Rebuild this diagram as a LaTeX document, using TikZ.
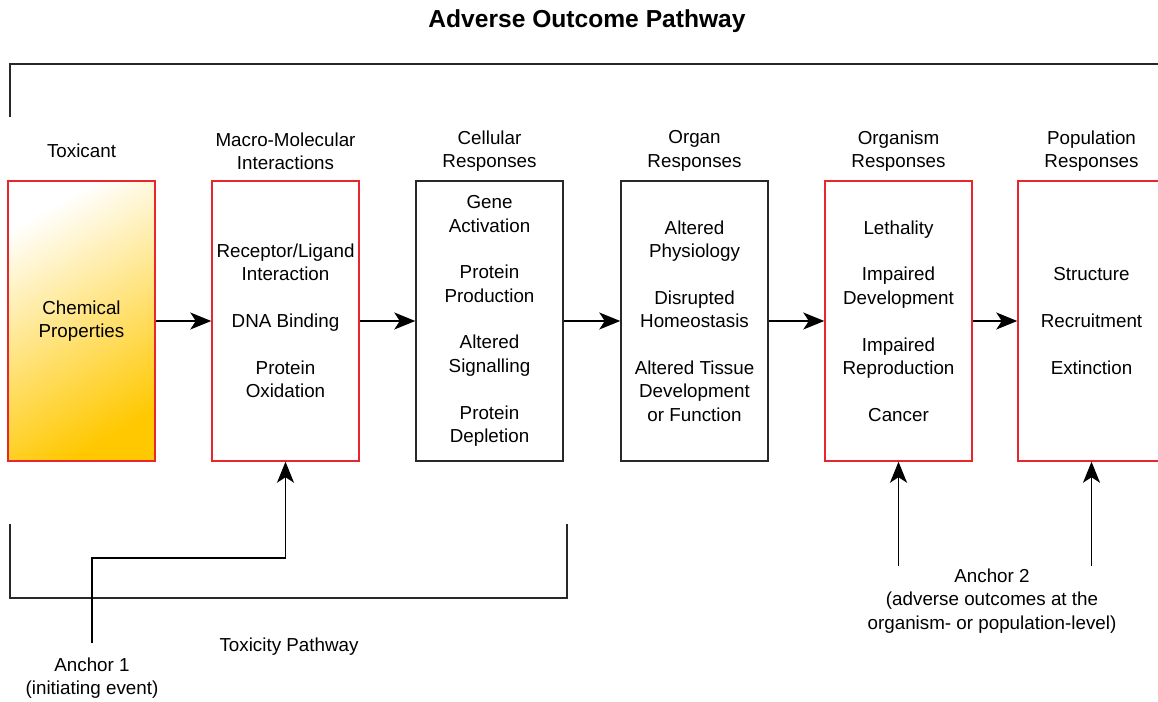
\documentclass[tikz,border=0pt]{standalone}
\usepackage{fontspec}
\setmainfont{Liberation Sans}
\usetikzlibrary{arrows.meta,positioning}
\definecolor{boxred}{RGB}{232,38,44}
\definecolor{gold}{RGB}{255,200,0}
\definecolor{linegray}{RGB}{40,40,40}
\tikzset{
  stagebox/.style={draw=linegray, line width=0.85pt, minimum width=2.94cm, minimum height=5.6cm, align=center, inner sep=0pt},
  redbox/.style={stagebox, draw=boxred},
  head/.style={align=center},
  arr/.style={-{Stealth[length=0.42cm,width=0.34cm,inset=0.11cm]}, line width=0.75pt, draw=black},
  bracket/.style={line width=1.1pt, draw=linegray}
}

\begin{document}
\begin{tikzpicture}[x=0.02cm, y=-0.02cm, font=\fontsize{10.7}{13.3}\selectfont]
  \useasboundingbox (0,0) rectangle (1158,702);

  \node[font=\fontsize{14}{16}\selectfont\bfseries] (title) at (587,21) {Adverse Outcome Pathway};

  % stages
  \node[redbox, top color=white, bottom color=gold, shading angle=30] (tox) at (81.5,321) {Chemical\\Properties};
  \node[redbox] (macro) at (285.5,321) {Receptor/Ligand\\Interaction\\[13.3pt]DNA Binding\\[13.3pt]Protein\\Oxidation};
  \node[stagebox] (cell) at (489.5,321) {Gene\\Activation\\[13.3pt]Protein\\Production\\[13.3pt]Altered\\Signalling\\[13.3pt]Protein\\Depletion};
  \node[stagebox] (organ) at (694.5,321) {Altered\\Physiology\\[13.3pt]Disrupted\\Homeostasis\\[13.3pt]Altered Tissue\\Development\\or Function};
  \node[redbox] (organism) at (898.5,321) {Lethality\\[13.3pt]Impaired\\Development\\[13.3pt]Impaired\\Reproduction\\[13.3pt]Cancer};
  \node[redbox] (pop) at (1091.5,321) {Structure\\[13.3pt]Recruitment\\[13.3pt]Extinction};

  % headings
  \node[head] (toxh) at (81.5,151) {Toxicant};
  \node[head] (macroh) at (285.5,151) {Macro-Molecular\\Interactions};
  \node[head] (cellh) at (489.5,151) {Cellular\\Responses};
  \node[head] (organh) at (694.5,151) {Organ\\Responses};
  \node[head] (organismh) at (898.5,151) {Organism\\Responses};
  \node[head] (poph) at (1091.5,151) {Population\\Responses};

  \draw[arr] (tox) -- (macro);
  \draw[arr] (macro) -- (cell);
  \draw[arr] (cell) -- (organ);
  \draw[arr] (organ) -- (organism);
  \draw[arr] (organism) -- (pop);

  % brackets
  \draw[bracket] (10,117) -- (10,64) -- (1158,64);
  \draw[bracket] (10,524) -- (10,598) -- (567,598) -- (567,524);
  \node (toxpath) at (289,647) {Toxicity Pathway};

  % anchors
  \coordinate (a1) at (92,643);
  \coordinate (a1bend) at (0,558);
  \node[head] (anchor1) at (92,678) {Anchor 1\\(initiating event)};
  \draw[arr] (a1) |- (a1bend -| macro.south) -- (macro.south);

  \coordinate (a2l) at (898.5,566);
  \coordinate (a2r) at (1091.5,566);
  \node[head] (anchor2) at (992,601) {Anchor 2\\(adverse outcomes at the\\organism- or population-level)};
  \draw[arr] (a2l) -- (organism.south);
  \draw[arr] (a2r) -- (pop.south);
\end{tikzpicture}
\end{document}
